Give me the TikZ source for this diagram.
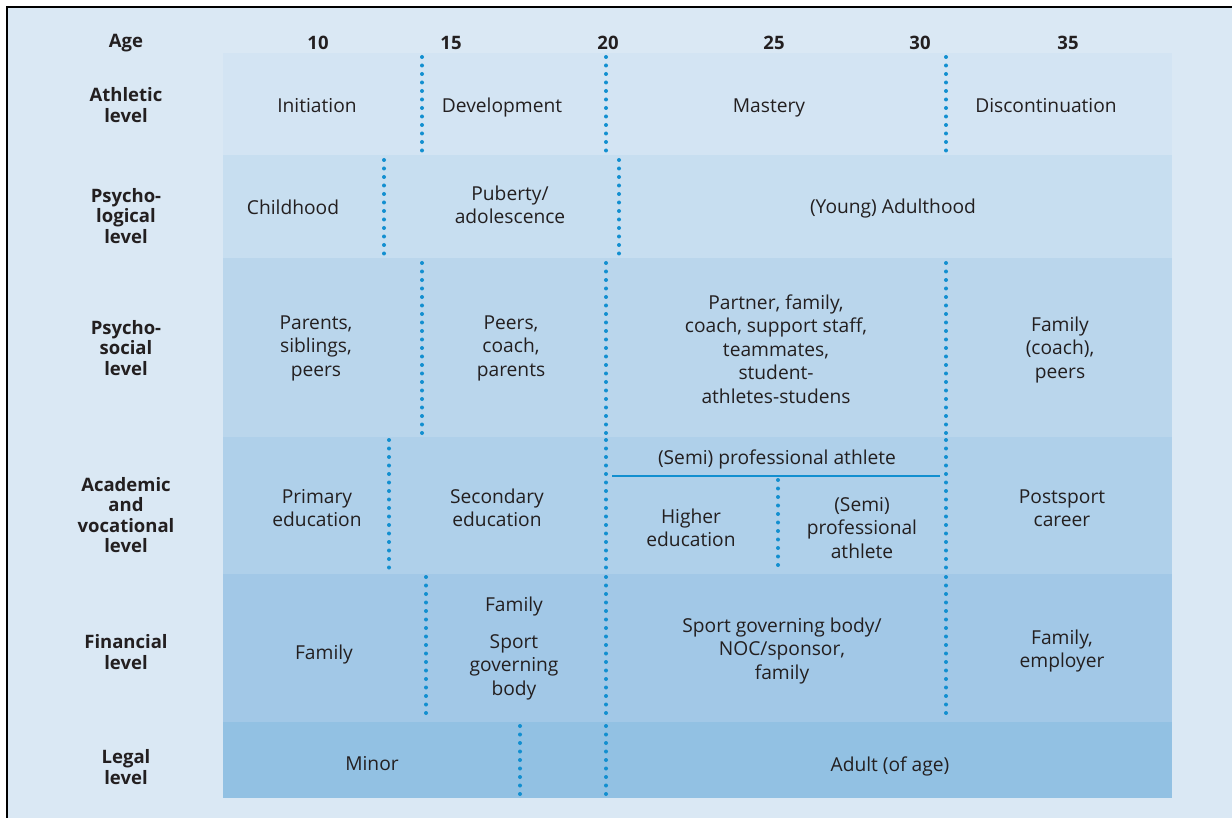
\documentclass[tikz,border=0pt]{standalone}
\usepackage{fontspec}
\setmainfont{Open Sans}
\usetikzlibrary{calc}

\definecolor{bgL}{RGB}{218,232,244}
\definecolor{bgM}{RGB}{236,243,250}
\definecolor{rowA}{RGB}{211,228,243}
\definecolor{rowB}{RGB}{199,222,240}
\definecolor{rowC}{RGB}{186,214,236}
\definecolor{rowD}{RGB}{175,208,234}
\definecolor{rowE}{RGB}{162,200,231}
\definecolor{rowF}{RGB}{146,193,227}
\definecolor{dotblue}{RGB}{18,143,208}
\definecolor{txt}{RGB}{35,31,32}

\tikzset{
  cell/.style={align=center, text=txt, font=\fontsize{19.2}{23.5}\selectfont},
  lbl/.style={align=center, text=txt, font=\fontsize{18.5}{20.5}\selectfont\bfseries},
  dots/.style={dotblue, line width=4pt, line cap=round, dash pattern=on 0pt off 8.5pt},
}

\begin{document}
\begin{tikzpicture}[x=1pt, y=-1pt]
\useasboundingbox (0,0) rectangle (1232,818);

% background and frame
\fill [white] (0,0) rectangle (1232,818);
\shade [left color=bgL, middle color=bgM, right color=bgL] (7,7) rectangle (1232,818);
\draw [line width=2pt, black] (7,818) -- (7,7) -- (1232,7);

% rows
\fill [rowA] (223,53) rectangle (1172,155);
\fill [rowB] (223,155) rectangle (1172,258);
\fill [rowC] (223,258) rectangle (1172,437);
\fill [rowD] (223,437) rectangle (1172,574);
\fill [rowE] (223,574) rectangle (1172,722);
\fill [rowF] (223,722) rectangle (1172,798);

% age scale
\node [lbl] (age) at (126,43) {Age};
\foreach \a/\x in {10/318, 15/451, 20/608, 25/774, 30/920, 35/1068}
  \node [lbl] (age\a) at (\x,43) {\a};

% row labels
\node [lbl] (athl) at (126,105) {Athletic\\level};
\node [lbl] (psyl) at (126,216) {Psycho-\\logical\\level};
\node [lbl] (socl) at (126,348) {Psycho-\\social\\level};
\node [lbl] (acal) at (126,515) {Academic\\and\\vocational\\level};
\node [lbl] (finl) at (126,652) {Financial\\level};
\node [lbl] (legl) at (126,767) {Legal\\level};

% dotted borders
\foreach \x/\ya/\yb in {422/57/151, 606/57/151, 946/57/151,
                        384/160/254, 619/160/254,
                        422/263/433, 606/263/433, 946/263/433,
                        389/440/571, 606/440/571, 946/440/571, 778/480/571,
                        426/577/718, 606/577/718, 946/577/718,
                        520/726/795, 606/726/795}
  \draw [dots] (\x,\ya) -- (\x,\yb);
\draw [dotblue, line width=1.5pt] (612,476) -- (940,476);

% athletic
\node [cell] (init) at (317,106) {Initiation};
\node [cell] (devel) at (502,108) {Development};
\node [cell] (mast) at (769,108) {Mastery};
\node [cell] (disc) at (1046,106) {Discontinuation};

% psychological
\node [cell] (child) at (293,207) {Childhood};
\node [cell] (pub) at (510,205) {Puberty/\\adolescence};
\node [cell] (adult) at (893,209) {(Young) Adulthood};

% psychosocial
\node [cell] (par) at (316,348) {Parents,\\siblings,\\peers};
\node [cell] (peer) at (511,348) {Peers,\\coach,\\parents};
\node [cell] (partner) at (776,349) {Partner, family,\\coach, support staff,\\teammates,\\student-\\athletes-studens};
\node [cell] (fam) at (1060,350) {Family\\(coach),\\peers};

% academic and vocational
\node [cell] (prim) at (317,508) {Primary\\education};
\node [cell] (sec) at (497,508) {Secondary\\education};
\node [cell] (pro) at (777,459) {(Semi) professional athlete};
\node [cell] (high) at (691,528) {Higher\\education};
\node [cell] (semi) at (862,528) {(Semi)\\professional\\athlete};
\node [cell] (post) at (1062,508) {Postsport\\career};

% financial
\node [cell] (ffam) at (324,655) {Family};
\node [cell] (ffam2) at (514,607) {Family};
\node [cell] (sgb) at (514,667) {Sport\\governing\\body};
\node [cell] (noc) at (782,651) {Sport governing body/\\NOC/sponsor,\\family};
\node [cell] (emp) at (1062,651) {Family,\\employer};

% legal
\node [cell] (minor) at (372,764) {Minor};
\node [cell] (adage) at (890,766) {Adult (of age)};
\end{tikzpicture}
\end{document}
